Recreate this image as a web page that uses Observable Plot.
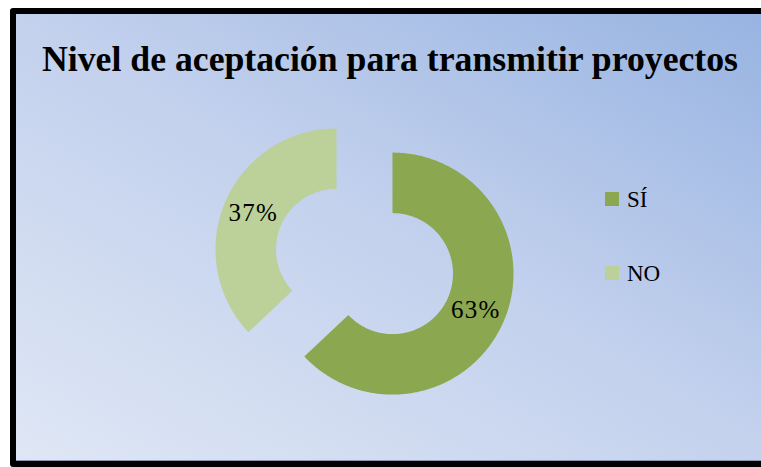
<!DOCTYPE html>
<html>
<head>
<meta charset="utf-8">
<script src="https://cdn.jsdelivr.net/npm/d3@7"></script>
<script src="https://cdn.jsdelivr.net/npm/@observablehq/plot@0.6"></script>
<style>
  html, body { margin: 0; padding: 0; background: #fff; }
  #wrap { position: relative; width: 761px; height: 467px; overflow: hidden; background: #fff; }
  #bg {
    position: absolute; left: 10px; top: 8px; width: 800px; height: 459px;
    box-sizing: border-box; border: 6px solid #000; border-radius: 3px;
    background: linear-gradient(to top right, #dfe7f5 0%, #c3d1ed 50%, #95b2e1 100%);
    box-shadow: inset 0 -1px 0 #8797b3;
  }
  #chart { position: absolute; left: 0; top: 0; }
  #overlay { position: absolute; left: 0; top: 0; }
</style>
</head>
<body>
<div id="wrap">
  <div id="bg"></div>
  <div id="chart"></div>
  <svg id="overlay" width="761" height="467"></svg>
</div>
<script>
// ---- data ----
const title = "Nivel de aceptación para transmitir proyectos";
const categories = ["SÍ", "NO"];
const values = [63, 37];
const valueLabels = ["63%", "37%"];
const colors = ["#8BA74F", "#BBD199"];

// ---- geometry helpers (unit radius = outer radius) ----
const holeRatio = 0.5;
const explode = 0.252;
const outerPx = 121;
const centerPx = [364, 261];
const W = 761, H = 467;

const arcs = d3.pie().sort(null).value(d => d)(values);

const ringPoints = arcs.flatMap((a, i) => {
  const mid = (a.startAngle + a.endAngle) / 2;
  const ox = explode * Math.sin(mid), oy = explode * Math.cos(mid);
  const n = Math.max(2, Math.ceil((a.endAngle - a.startAngle) / 0.01));
  const pts = [];
  for (let k = 0; k <= n; k++) {
    const t = a.startAngle + (a.endAngle - a.startAngle) * k / n;
    pts.push({cat: categories[i], x: ox + Math.sin(t), y: oy + Math.cos(t)});
  }
  for (let k = n; k >= 0; k--) {
    const t = a.startAngle + (a.endAngle - a.startAngle) * k / n;
    pts.push({cat: categories[i], x: ox + holeRatio * Math.sin(t), y: oy + holeRatio * Math.cos(t)});
  }
  return pts;
});

const labelPoints = arcs.map((a, i) => {
  const mid = (a.startAngle + a.endAngle) / 2;
  const r = (1 + holeRatio) / 2;
  return {
    text: valueLabels[i],
    x: explode * Math.sin(mid) + r * Math.sin(mid),
    y: explode * Math.cos(mid) + r * Math.cos(mid)
  };
});

const chart = Plot.plot({
  width: W,
  height: H,
  margin: 0,
  style: {background: "transparent"},
  x: {domain: [-centerPx[0] / outerPx, (W - centerPx[0]) / outerPx], axis: null},
  y: {domain: [-(H - centerPx[1]) / outerPx, centerPx[1] / outerPx], axis: null},
  color: {domain: categories, range: colors},
  marks: [
    Plot.line(ringPoints, {x: "x", y: "y", z: "cat", fill: "cat", stroke: null, curve: "linear-closed"}),
    Plot.text(labelPoints, {x: "x", y: "y", text: "text", fontSize: 25, fontFamily: "Liberation Serif", fill: "#000"})
  ]
});
chart.querySelectorAll("text").forEach(t => t.setAttribute("letter-spacing", "1.2"));
document.getElementById("chart").appendChild(chart);

// ---- title and legend ----
const ov = d3.select("#overlay");
ov.append("text")
  .attr("x", 42).attr("y", 71)
  .attr("textLength", 696).attr("lengthAdjust", "spacingAndGlyphs")
  .attr("font-family", "Liberation Serif").attr("font-weight", "bold").attr("font-size", 35)
  .attr("fill", "#000")
  .text(title);

const leg = ov.selectAll("g.leg").data(categories).join("g")
  .attr("transform", (d, i) => `translate(605,${192 + i * 74})`);
leg.append("rect").attr("width", 14).attr("height", 14).attr("fill", (d, i) => colors[i]);
leg.append("text").attr("x", 22).attr("y", 15)
  .attr("font-family", "Liberation Serif").attr("font-size", 23).attr("fill", "#000")
  .text(d => d);
</script>
</body>
</html>
